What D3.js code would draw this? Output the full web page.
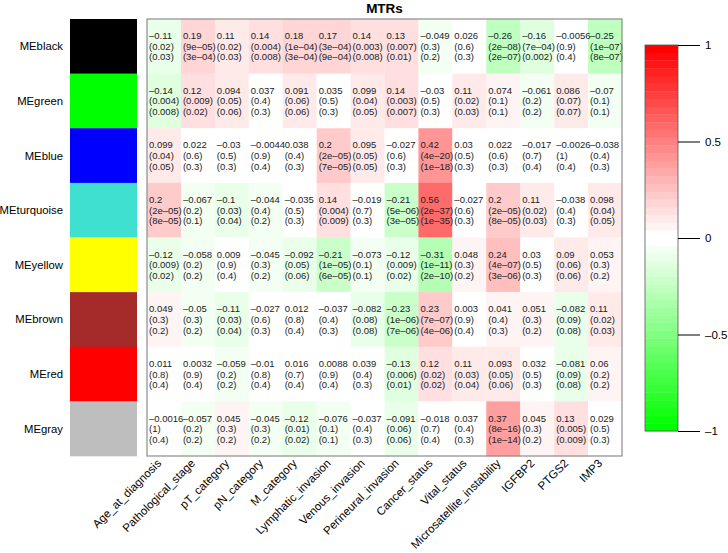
<!DOCTYPE html>
<html><head><meta charset="utf-8">
<script src="https://cdn.jsdelivr.net/npm/d3@7"></script>
<style>body{margin:0;background:#fff} text{font-family:"Liberation Sans",Arial,Helvetica,sans-serif}</style>
</head><body>
<svg id="chart" width="728" height="553"></svg>
<script>
const title = "MTRs";
const modules = ["MEblack","MEgreen","MEblue","MEturquoise","MEyellow","MEbrown","MEred","MEgray"];
const moduleColors = ["#000000","#00ff00","#0000ff","#40e0d0","#ffff00","#a52a2a","#ff0000","#bebebe"];
const traits = ["Age_at_diagnosis","Pathological_stage","pT_category","pN_category","M_category","Lymphatic_invasion","Venous_invasion","Perineural_invasion","Cancer_status","Vital_status","Microsatellite_instability","IGFBP2","PTGS2","IMP3"];
const corr = [
  [-0.11,0.19,0.11,0.14,0.18,0.17,0.14,0.13,-0.049,0.026,-0.26,-0.16,-0.0056,-0.25],
  [-0.14,0.12,0.094,0.037,0.091,0.035,0.099,0.14,-0.03,0.11,0.074,-0.061,0.086,-0.07],
  [0.099,0.022,-0.03,-0.0044,0.038,0.2,0.095,-0.027,0.42,0.03,0.022,-0.017,-0.0026,-0.038],
  [0.2,-0.067,-0.1,-0.044,-0.035,0.14,-0.019,-0.21,0.56,-0.027,0.2,0.11,-0.038,0.098],
  [-0.12,-0.058,0.009,-0.045,-0.092,-0.21,-0.073,-0.12,-0.31,0.048,0.24,0.03,0.09,0.053],
  [0.049,-0.05,-0.11,-0.027,0.012,-0.037,-0.082,-0.23,0.23,0.003,0.041,0.051,-0.082,0.11],
  [0.011,0.0032,-0.059,-0.01,0.016,0.0088,0.039,-0.13,0.12,0.11,0.093,0.032,-0.081,0.06],
  [-0.0016,-0.057,0.045,-0.045,-0.12,-0.076,-0.037,-0.091,-0.018,0.037,0.37,0.045,0.13,0.029]
];
const pval = [
  ["0.02","9e-05","0.02","0.004","1e-04","3e-04","0.003","0.007","0.3","0.6","2e-08","7e-04","0.9","1e-07"],
  ["0.004","0.009","0.05","0.4","0.06","0.5","0.04","0.003","0.5","0.02","0.1","0.2","0.07","0.1"],
  ["0.04","0.6","0.5","0.9","0.4","2e-05","0.05","0.6","4e-20","0.5","0.6","0.7","1","0.4"],
  ["2e-05","0.2","0.03","0.4","0.5","0.004","0.7","5e-06","2e-37","0.6","2e-05","0.02","0.4","0.04"],
  ["0.009","0.2","0.9","0.3","0.05","1e-05","0.1","0.009","1e-11","0.3","4e-07","0.5","0.06","0.3"],
  ["0.3","0.3","0.03","0.6","0.8","0.4","0.08","1e-06","7e-07","0.9","0.4","0.3","0.09","0.02"],
  ["0.8","0.9","0.2","0.8","0.7","0.9","0.4","0.006","0.02","0.03","0.05","0.5","0.09","0.2"],
  ["1","0.2","0.3","0.3","0.01","0.1","0.4","0.06","0.7","0.4","8e-16","0.3","0.005","0.5"]
];
const padj = [
  ["0.03","3e-04","0.03","0.008","3e-04","9e-04","0.008","0.01","0.2","0.3","2e-07","0.002","0.4","8e-07"],
  ["0.008","0.02","0.06","0.3","0.06","0.3","0.05","0.007","0.3","0.03","0.1","0.2","0.07","0.1"],
  ["0.05","0.3","0.3","0.4","0.3","7e-05","0.05","0.3","1e-18","0.3","0.3","0.4","0.4","0.3"],
  ["8e-05","0.1","0.04","0.2","0.3","0.009","0.3","3e-05","1e-35","0.3","8e-05","0.03","0.3","0.05"],
  ["0.02","0.2","0.4","0.2","0.06","6e-05","0.1","0.02","2e-10","0.2","3e-06","0.3","0.06","0.2"],
  ["0.2","0.2","0.04","0.3","0.4","0.3","0.08","7e-06","4e-06","0.4","0.3","0.2","0.08","0.03"],
  ["0.4","0.4","0.2","0.4","0.4","0.4","0.3","0.01","0.02","0.04","0.06","0.3","0.08","0.2"],
  ["0.4","0.2","0.2","0.2","0.02","0.1","0.3","0.06","0.4","0.3","1e-14","0.2","0.009","0.3"]
];
const legendTicks = [-1,-0.5,0,0.5,1];

const svg = d3.select("#chart");
const L = 147, R = 622, T = 19, B = 456;
const x = d3.scaleBand().domain(traits).range([L, R]);
const y = d3.scaleBand().domain(modules).range([T, B]);

// green-white-red palette, 50 steps
const nCol = 50, half = 25;
const palette = d3.range(nCol).map(k => {
  if (k < half) { const t = (half - 1 - k) / (half - 1); const c = Math.round(255 * (1 - t)); return d3.rgb(c, 255, c).formatHex(); }
  const t = (k - half) / (half - 1); const c = Math.round(255 * (1 - t)); return d3.rgb(255, c, c).formatHex();
});
const color = d3.scaleQuantize().domain([-1, 1]).range(palette);
const fmt = s => String(s).replace(/-/g, "\u2013");

// cells
const cells = [];
modules.forEach((m, i) => traits.forEach((t, j) => cells.push({m, t, r: corr[i][j], p: pval[i][j], q: padj[i][j]})));
const g = svg.append("g");
g.selectAll("rect.cell").data(cells).join("rect").attr("class","cell")
  .attr("x", d => x(d.t)).attr("y", d => y(d.m))
  .attr("width", x.bandwidth() + 0.3).attr("height", y.bandwidth() + 0.3)
  .attr("fill", d => color(d.r));
const tg = g.selectAll("text.cell").data(cells).join("text").attr("class","cell")
  .attr("font-size", "9.5px").attr("fill", "#222");
tg.each(function(d) {
  const cy = y(d.m) + y.bandwidth() / 2;
  const el = d3.select(this);
  [fmt(d.r), "(" + fmt(d.p) + ")", "(" + fmt(d.q) + ")"].forEach((s, k) => {
    el.append("tspan").attr("x", x(d.t) + 2).attr("y", cy + (k - 1) * 10.6).attr("dominant-baseline", "central").text(s);
  });
});
svg.append("rect").attr("x", L).attr("y", T).attr("width", R - L).attr("height", B - T)
  .attr("fill", "none").attr("stroke", "#8c8c8c").attr("stroke-width", 1.2);

// module color blocks and labels
svg.selectAll("rect.mod").data(modules).join("rect").attr("class","mod")
  .attr("x", 70).attr("y", d => y(d)).attr("width", 67).attr("height", y.bandwidth() + 0.3)
  .attr("fill", (d, i) => moduleColors[i]);
svg.selectAll("text.mod").data(modules).join("text").attr("class","mod")
  .attr("x", 63).attr("y", d => y(d) + y.bandwidth() / 2).attr("dominant-baseline", "central")
  .attr("text-anchor", "end").attr("font-size", "11.3px").attr("fill", "#000").text(d => d);

// x labels
svg.selectAll("text.trait").data(traits).join("text").attr("class","trait")
  .attr("transform", d => `translate(${x(d) + x.bandwidth() / 2 - 2},${B + 8}) rotate(-45)`)
  .attr("text-anchor", "end").attr("font-size", "11.5px").attr("fill", "#000").text(d => d);

// title
svg.append("text").attr("x", (L + R) / 2).attr("y", 13).attr("text-anchor", "middle")
  .attr("font-size", "13.5px").attr("font-weight", "bold").text(title);

// colour legend
const ly = d3.scaleLinear().domain([-1, 1]).range([431, 45]);
const lx0 = 645, lx1 = 678;
const steps = d3.range(nCol).map(k => ({lo: -1 + k * 2 / nCol, hi: -1 + (k + 1) * 2 / nCol, c: palette[k]}));
svg.selectAll("rect.leg").data(steps).join("rect").attr("class","leg")
  .attr("x", lx0).attr("width", lx1 - lx0)
  .attr("y", d => ly(d.hi)).attr("height", d => ly(d.lo) - ly(d.hi) + 0.3)
  .attr("fill", d => d.c);
svg.append("rect").attr("x", lx0).attr("y", ly(1)).attr("width", lx1 - lx0).attr("height", ly(-1) - ly(1))
  .attr("fill", "none").attr("stroke", "#555").attr("stroke-width", 0.8);
const axis = d3.axisRight(ly).tickValues(legendTicks).tickSize(22).tickPadding(5)
  .tickFormat(v => fmt(String(v)));
const ag = svg.append("g").attr("transform", `translate(${lx1},0)`).call(axis);
ag.select(".domain").remove();
ag.selectAll("text").attr("font-size", "11.5px").attr("font-family", "Liberation Sans, Arial, sans-serif").attr("fill", "#000");
ag.selectAll("line").attr("stroke", "#000");
</script>
</body></html>
